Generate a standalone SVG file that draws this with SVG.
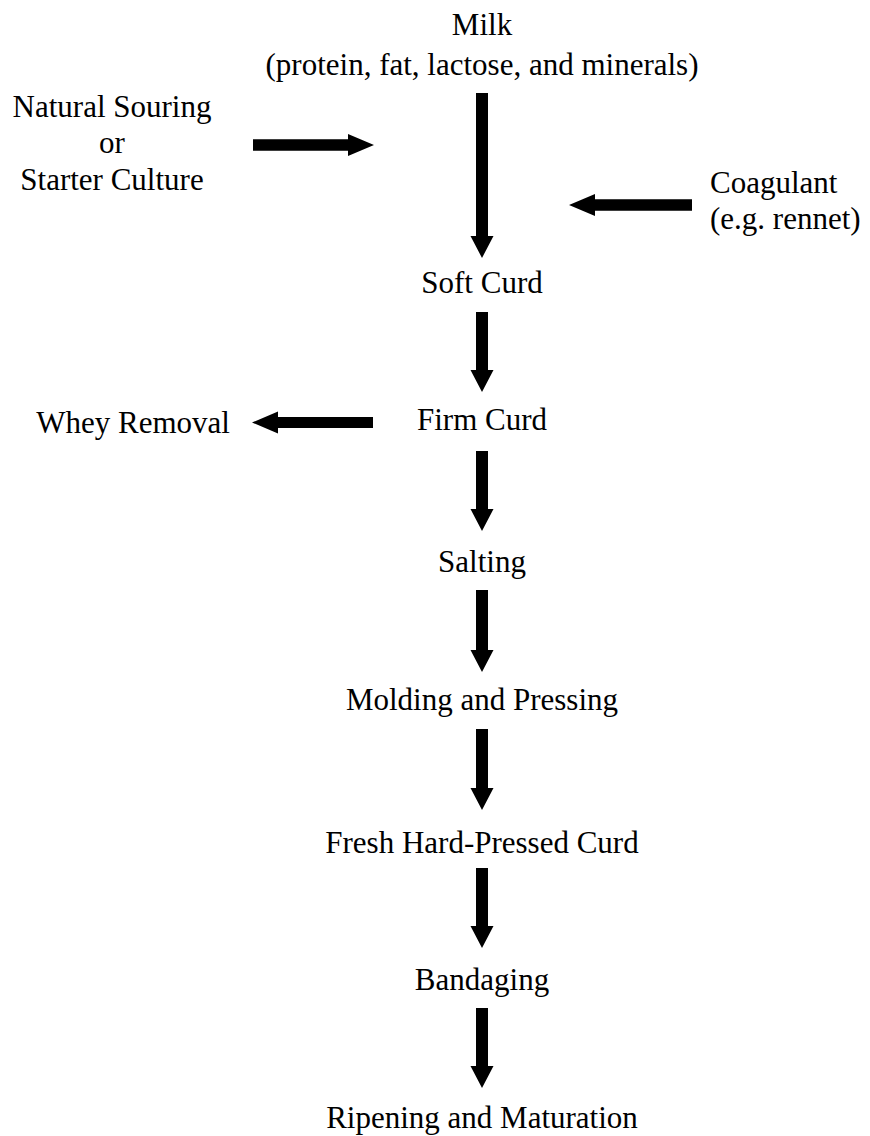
<svg xmlns="http://www.w3.org/2000/svg" width="870" height="1136" viewBox="0 0 870 1136">
<style>
text{font-size:31px;fill:#000}
.c{text-anchor:middle}
.e{text-anchor:end}
.arr{fill:#000;stroke:none}
</style>
<rect width="870" height="1136" fill="#fff"/>
<g font-family="'Liberation Serif', 'DejaVu Serif', serif">
<g id="milk"><text class="c" x="482" y="35">Milk</text><text class="c" x="482" y="75">(protein, fat, lactose, and minerals)</text></g>
<g id="starter"><text class="c" x="112" y="117">Natural Souring</text><text class="c" x="112" y="153">or</text><text class="c" x="112" y="190">Starter Culture</text></g>
<g id="coagulant"><text x="710" y="193">Coagulant</text><text x="710" y="229">(e.g. rennet)</text></g>
<g id="softcurd"><text class="c" x="482" y="293">Soft Curd</text></g>
<g id="firmcurd"><text class="c" x="482" y="430">Firm Curd</text></g>
<g id="whey"><text class="e" x="230" y="433">Whey Removal</text></g>
<g id="salting"><text class="c" x="482" y="572">Salting</text></g>
<g id="molding"><text class="c" x="482" y="710">Molding and Pressing</text></g>
<g id="fresh"><text class="c" x="482" y="853">Fresh Hard-Pressed Curd</text></g>
<g id="bandaging"><text class="c" x="482" y="990">Bandaging</text></g>
<g id="ripening"><text class="c" x="482" y="1128">Ripening and Maturation</text></g>
</g>
<g id="connectors" class="arr">
<path d="M476,93 H488 V236 H493.5 L482,258 L470.5,236 H476 Z"/>
<path d="M253,139.3 H348 V134 L374,145 L348,156 V150.7 H253 Z"/>
<path d="M692,199.3 H595 V194 L569,205 L595,216 V210.7 H692 Z"/>
<path d="M373,417 H278 V411.5 L252,422.5 L278,433.5 V428 H373 Z"/>
<path d="M476,312 H488 V370 H493.5 L482,392 L470.5,370 H476 Z"/>
<path d="M476,451 H488 V509 H493.5 L482,531 L470.5,509 H476 Z"/>
<path d="M476,590 H488 V650 H493.5 L482,672 L470.5,650 H476 Z"/>
<path d="M476,729 H488 V788 H493.5 L482,810 L470.5,788 H476 Z"/>
<path d="M476,868 H488 V926 H493.5 L482,948 L470.5,926 H476 Z"/>
<path d="M476,1008 H488 V1066 H493.5 L482,1088 L470.5,1066 H476 Z"/>
</g>
</svg>
